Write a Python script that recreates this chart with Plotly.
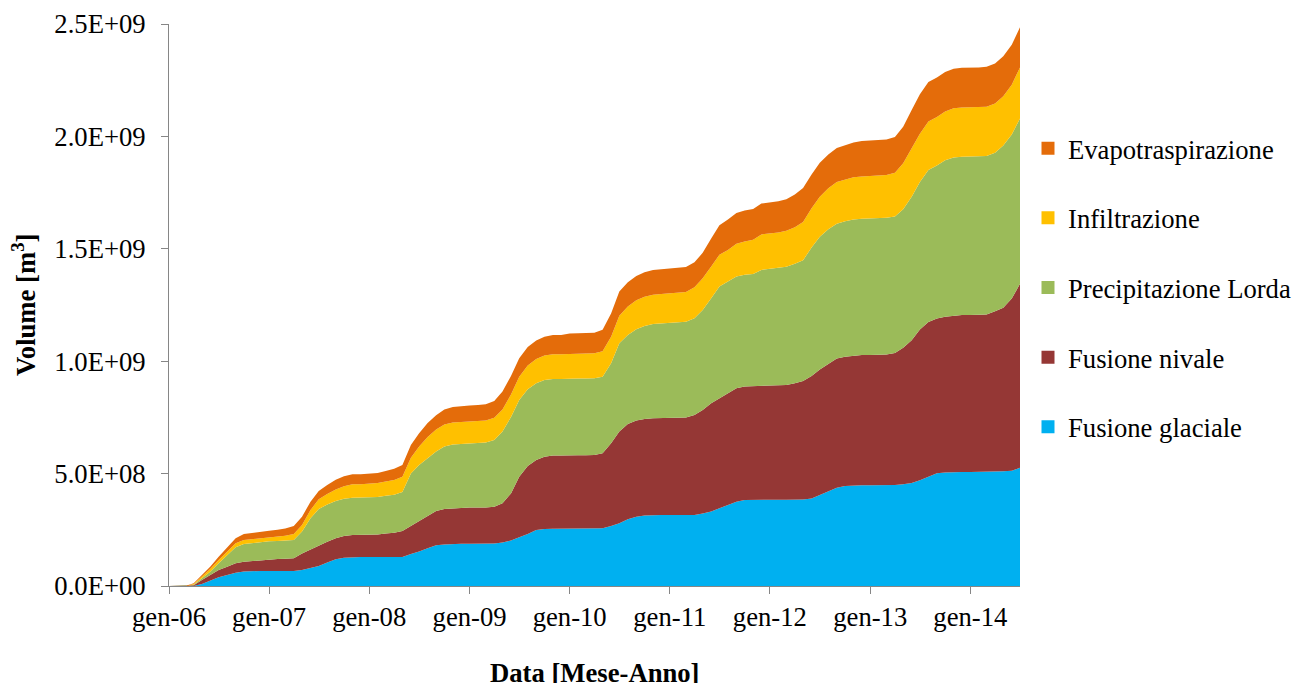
import numpy as np
import pandas as pd
import plotly.graph_objects as go

# Monthly time axis, Jan 2006 - Jul 2014
dates = pd.date_range("2006-01-01", "2014-07-01", freq="MS")

# Cumulative volumes per component, in millions of m3
fusione_glaciale = [
    0, 0, 0, 0, 9, 24, 39, 49, 59, 64, 67, 67,
    67, 67, 67, 67, 71, 79, 89, 104, 119, 126, 129, 129,
    129, 129, 129, 129, 129, 142, 153, 168, 181, 185, 188, 188,
    188, 188, 188, 189, 193, 202, 217, 231, 249, 254, 255, 255,
    257, 257, 257, 257, 257, 267, 279, 297, 308, 314, 316, 316,
    316, 316, 316, 316, 323, 331, 346, 360, 375, 383, 384, 384,
    384, 384, 384, 384, 385, 389, 405, 421, 437, 445, 448, 448,
    448, 448, 448, 449, 453, 458, 470, 486, 502, 505, 507, 507,
    507, 507, 507, 508, 510, 513, 526,
]
fusione_nivale = [
    0, 0, 0, 3, 18, 25, 32, 37, 42, 44, 44, 49,
    52, 53, 54, 56, 74, 84, 93, 93, 93, 96, 98, 98,
    99, 100, 105, 108, 116, 125, 138, 145, 153, 158, 158, 161,
    161, 161, 161, 164, 175, 210, 269, 303, 312, 321, 325, 325,
    325, 325, 325, 326, 333, 368, 408, 424, 428, 429, 430, 431,
    431, 431, 434, 445, 460, 482, 489, 497, 505, 505, 505, 506,
    506, 507, 510, 518, 527, 545, 558, 567, 575, 575, 577, 580,
    580, 580, 582, 587, 607, 635, 671, 688, 688, 693, 696, 699,
    699, 699, 701, 714, 728, 766, 818,
]
precipitazione_lorda = [
    0, 0, 0, 3, 7, 15, 30, 52, 71, 79, 80, 80,
    80, 80, 80, 82, 97, 138, 160, 165, 166, 166, 166, 166,
    166, 167, 167, 169, 173, 234, 247, 255, 264, 277, 283, 283,
    284, 286, 289, 297, 319, 340, 341, 341, 341, 341, 341, 341,
    341, 341, 341, 341, 341, 356, 393, 396, 406, 414, 420, 422,
    425, 425, 425, 430, 445, 467, 497, 497, 497, 497, 499, 516,
    520, 523, 526, 531, 537, 572, 591, 599, 599, 602, 605, 606,
    607, 607, 608, 608, 616, 639, 656, 677, 680, 696, 703, 704,
    704, 704, 705, 705, 721, 729, 736,
]
infiltrazione = [
    0, 0, 0, 3, 8, 13, 15, 16, 18, 18, 18, 18,
    19, 20, 22, 26, 29, 37, 44, 47, 51, 56, 60, 60,
    61, 62, 64, 66, 68, 70, 82, 95, 98, 98, 98, 98,
    98, 98, 98, 98, 98, 100, 104, 106, 108, 109, 110, 110,
    110, 111, 111, 111, 113, 118, 122, 126, 129, 130, 130, 130,
    130, 131, 133, 138, 141, 141, 141, 141, 145, 148, 152, 158,
    158, 159, 160, 163, 170, 174, 178, 182, 186, 187, 188, 188,
    189, 189, 190, 194, 205, 215, 215, 215, 216, 217, 219, 219,
    219, 219, 219, 219, 220, 222, 227,
]
evapotraspirazione = [
    0, 0, 0, 3, 7, 10, 14, 19, 22, 26, 28, 28,
    28, 30, 33, 36, 37, 37, 37, 40, 44, 44, 44, 44,
    44, 45, 47, 50, 52, 56, 59, 62, 64, 67, 69, 71,
    72, 72, 73, 75, 80, 82, 82, 82, 82, 84, 85, 86,
    90, 90, 91, 92, 96, 103, 108, 108, 108, 109, 110, 110,
    111, 111, 111, 111, 113, 125, 132, 135, 137, 137, 137, 137,
    137, 138, 140, 145, 151, 151, 151, 151, 151, 153, 155, 157,
    158, 158, 158, 159, 162, 170, 176, 176, 176, 176, 176, 176,
    176, 177, 178, 178, 178, 178, 178,
]

series_names = ["Fusione glaciale", "Fusione nivale", "Precipitazione Lorda",
                "Infiltrazione", "Evapotraspirazione"]
series_values = [fusione_glaciale, fusione_nivale, precipitazione_lorda,
                 infiltrazione, evapotraspirazione]
colors = ["#00B0F0", "#953735", "#9BBB59", "#FFC000", "#E46C0A"]

y_tick_vals = [0, 5e8, 1e9, 1.5e9, 2e9, 2.5e9]
y_tick_text = ["0.0E+00", "5.0E+08", "1.0E+09", "1.5E+09", "2.0E+09", "2.5E+09"]
x_tick_vals = pd.date_range("2006-01-01", "2014-01-01", freq="YS")
x_tick_text = ["gen-06", "gen-07", "gen-08", "gen-09", "gen-10",
               "gen-11", "gen-12", "gen-13", "gen-14"]

FONT = "Liberation Serif"
FS = 26.67
AXIS_COLOR = "#868686"

fig = go.Figure()

# Stacked areas, bottom to top
for name, vals, col in zip(series_names, series_values, colors):
    fig.add_trace(go.Scatter(
        x=dates, y=np.array(vals, dtype=float) * 1e6,
        name=name, stackgroup="vol", mode="lines",
        line=dict(width=0, color=col), fillcolor=col,
        showlegend=False, hoverinfo="x+y+name",
    ))

# Square legend keys, listed top layer first
for name, col in reversed(list(zip(series_names, colors))):
    fig.add_trace(go.Scatter(
        x=[None], y=[None], mode="markers", name=name,
        legendgroup=name,
        marker=dict(symbol="square", size=13, color=col),
    ))

fig.update_layout(
    width=1296, height=683,
    margin=dict(l=169, r=276, t=24, b=97, autoexpand=False),
    paper_bgcolor="white", plot_bgcolor="white",
    font=dict(family=FONT, size=FS, color="black"),
    showlegend=True,
    legend=dict(
        x=1.0094, y=0.8215, xanchor="left", yanchor="top",
        traceorder="grouped", tracegroupgap=32,
        font=dict(family=FONT, size=FS, color="black"),
        itemwidth=30, bgcolor="rgba(0,0,0,0)",
    ),
    xaxis=dict(
        type="date", range=["2006-01-01", "2014-07-01"],
        tickvals=x_tick_vals, ticktext=x_tick_text,
        showgrid=False, zeroline=False,
        showline=True, linecolor=AXIS_COLOR, linewidth=1,
        ticks="outside", ticklen=7, tickcolor=AXIS_COLOR,
        tickfont=dict(family=FONT, size=FS, color="black"),
    ),
    yaxis=dict(
        range=[0, 2.5e9], tickvals=y_tick_vals, ticktext=y_tick_text,
        showgrid=False, zeroline=False,
        showline=True, linecolor=AXIS_COLOR, linewidth=1,
        ticks="outside", ticklen=7, tickcolor=AXIS_COLOR,
        ticklabelstandoff=10,
        tickfont=dict(family=FONT, size=FS, color="black"),
    ),
    annotations=[
        dict(text="<b>Volume [m<sup>3</sup>]</b>", textangle=-90,
             xref="paper", yref="paper", x=0, y=0.5,
             xanchor="center", yanchor="middle", xshift=-145,
             showarrow=False, font=dict(family=FONT, size=FS, color="black")),
        dict(text="<b>Data [Mese-Anno]</b>",
             xref="paper", yref="paper", x=0.5, y=0,
             xanchor="center", yanchor="middle", yshift=-87,
             showarrow=False, font=dict(family=FONT, size=FS, color="black")),
    ],
)

fig.write_html("out.html")
